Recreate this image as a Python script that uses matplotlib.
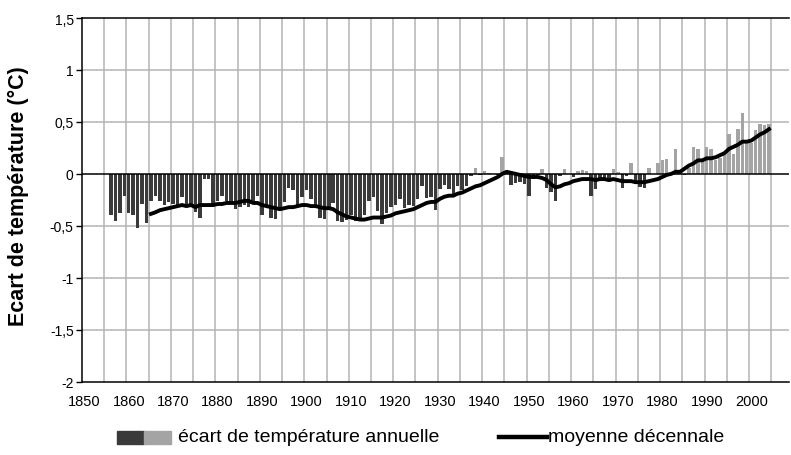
from matplotlib import pyplot as plt
import matplotlib.patches as mpatches
from matplotlib.lines import Line2D

# annual temperature anomaly (deg C), one bar per year
bar_years = list(range(1856, 2005))
anomaly = [
    -0.40, -0.45, -0.38, -0.21,
    -0.38, -0.40, -0.52, -0.29, -0.47, -0.26, -0.21, -0.26, -0.30, -0.27,
    -0.29, -0.30, -0.22, -0.29, -0.32, -0.37, -0.42, -0.05, -0.05, -0.29,
    -0.26, -0.21, -0.26, -0.27, -0.34, -0.32, -0.30, -0.32, -0.26, -0.21,
    -0.40, -0.32, -0.42, -0.43, -0.35, -0.27, -0.14, -0.16, -0.32, -0.22,
    -0.16, -0.24, -0.32, -0.42, -0.43, -0.34, -0.28, -0.45, -0.46, -0.44,
    -0.40, -0.45, -0.42, -0.40, -0.26, -0.22, -0.36, -0.48, -0.38, -0.32,
    -0.30, -0.24, -0.33, -0.30, -0.31, -0.24, -0.12, -0.23, -0.22, -0.35,
    -0.15, -0.11, -0.15, -0.21, -0.12, -0.16, -0.12, -0.02, 0.06, -0.01,
    0.03, 0.01, 0.00, -0.01, 0.16, 0.00, -0.11, -0.09, -0.08, -0.10,
    -0.21, -0.05, -0.01, 0.05, -0.14, -0.17, -0.26, -0.02, 0.05, 0.00,
    -0.03, 0.03, 0.04, 0.03, -0.21, -0.15, -0.06, -0.04, -0.06, 0.05,
    0.02, -0.14, -0.02, 0.10, -0.10, -0.13, -0.14, 0.06, 0.00, 0.10,
    0.13, 0.14, 0.00, 0.24, 0.02, -0.01, 0.06, 0.26, 0.24, 0.11,
    0.26, 0.24, 0.13, 0.15, 0.20, 0.38, 0.19, 0.43, 0.59, 0.30,
    0.30, 0.42, 0.48, 0.47, 0.48,
]

# decadal mean curve
mean_years = list(range(1865, 2005))
decadal_mean = [
    -0.385, -0.37, -0.35, -0.34, -0.33,
    -0.32, -0.31, -0.30, -0.31, -0.30, -0.32, -0.30, -0.30, -0.30, -0.30,
    -0.29, -0.29, -0.28, -0.28, -0.28, -0.27, -0.26, -0.26, -0.28, -0.28,
    -0.30, -0.31, -0.32, -0.33, -0.34, -0.33, -0.32, -0.32, -0.31, -0.30,
    -0.30, -0.31, -0.31, -0.32, -0.33, -0.33, -0.34, -0.37, -0.39, -0.41,
    -0.42, -0.43, -0.44, -0.44, -0.43, -0.42, -0.42, -0.42, -0.41, -0.40,
    -0.38, -0.37, -0.36, -0.35, -0.34, -0.32, -0.30, -0.28, -0.27, -0.27,
    -0.24, -0.22, -0.21, -0.21, -0.19, -0.18, -0.16, -0.14, -0.12, -0.11,
    -0.09, -0.07, -0.05, -0.03, 0.00, 0.02, 0.01, 0.00, -0.01, -0.02,
    -0.03, -0.03, -0.03, -0.04, -0.06, -0.10, -0.13, -0.12, -0.10, -0.09,
    -0.07, -0.06, -0.05, -0.05, -0.05, -0.06, -0.05, -0.05, -0.06, -0.05,
    -0.06, -0.07, -0.07, -0.07, -0.08, -0.08, -0.08, -0.07, -0.06, -0.05,
    -0.03, -0.01, 0.00, 0.02, 0.02, 0.05, 0.08, 0.10, 0.13, 0.13,
    0.15, 0.15, 0.16, 0.18, 0.20, 0.24, 0.26, 0.28, 0.31, 0.31,
    0.32, 0.35, 0.38, 0.40, 0.43,
]

x_labels = list(range(1850, 2001, 10))
y_ticks = [-2, -1.5, -1, -0.5, 0, 0.5, 1, 1.5]

DARK = '#3a3a3a'
LIGHT = '#a4a4a4'
GRID = '#b4b4b4'
sans = ['Liberation Sans', 'DejaVu Sans']

fig = plt.figure(figsize=(7.91, 4.56), dpi=100)
ax = fig.add_axes([82 / 791, 73.3 / 456, 707 / 791, 363.7 / 456])

colors = [DARK if v < 0 else LIGHT for v in anomaly]
ax.bar(bar_years, anomaly, width=0.78, color=colors, zorder=2)
ax.plot(mean_years, decadal_mean, color='black', lw=2.8, zorder=3,
        solid_joinstyle='round')

ax.set_xlim(1849.5, 2008.5)
ax.set_ylim(-2, 1.5)

# gridlines: horizontal at every half degree, vertical every 5 categories
for y in [-1.5, -1, -0.5, 0.5, 1]:
    ax.axhline(y, color=GRID, lw=1.1, zorder=1)
for gx in range(1855, 2009, 5):
    ax.axvline(gx - 0.5, color=GRID, lw=1.1, zorder=1)
ax.axhline(0, color='black', lw=1.1, zorder=4)

ax.spines['right'].set_visible(False)
for s in ['left', 'bottom', 'top']:
    ax.spines[s].set_linewidth(1.1)

ax.set_xticks(x_labels)
ax.set_xticklabels([str(v) for v in x_labels], family=sans, fontsize=10.5)
ax.tick_params(axis='x', length=0, pad=9)

ax.set_yticks(y_ticks)
ax.set_yticklabels([f'{v:g}'.replace('.', ',') for v in y_ticks],
                   family=sans, fontsize=10)
ax.tick_params(axis='y', length=4, width=1.0, direction='out', pad=2)

fig.text(18 / 791, 1 - 196 / 456, 'Ecart de température (°C)', rotation=90,
         ha='center', va='center', fontsize=15.5, fontweight='bold',
         family=sans)

# legend drawn below the plot
ly = 1 - 438 / 456
ph = 13 / 456
fig.patches.append(mpatches.Rectangle((117 / 791, ly - ph / 2), 27 / 791, ph,
                                      transform=fig.transFigure, color=DARK))
fig.patches.append(mpatches.Rectangle((144 / 791, ly - ph / 2), 27 / 791, ph,
                                      transform=fig.transFigure, color=LIGHT))
fig.text(178 / 791, ly, 'écart de température annuelle', ha='left', va='center',
         fontsize=14, family=sans)
fig.lines.append(Line2D([499 / 791, 547 / 791], [ly, ly], transform=fig.transFigure,
                        color='black', lw=3.2))
fig.text(548 / 791, ly, 'moyenne décennale', ha='left', va='center',
         fontsize=14, family=sans)

plt.savefig('out.png', dpi=100)
